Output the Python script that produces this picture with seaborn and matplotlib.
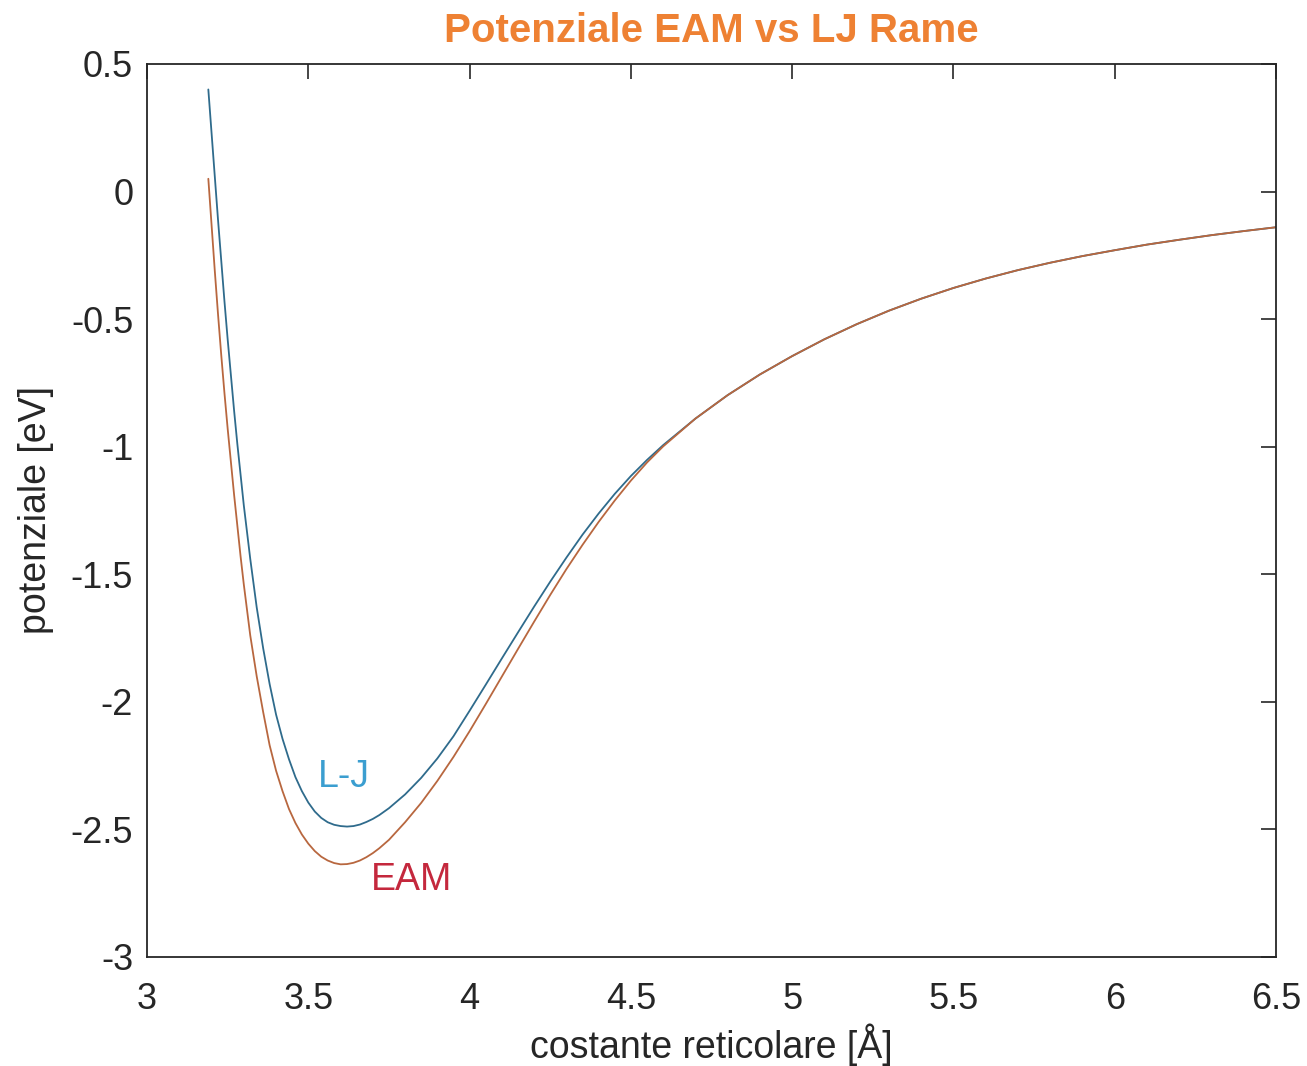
import matplotlib
matplotlib.use("Agg")
import matplotlib.pyplot as plt
import seaborn as sns
import numpy as np
import pandas as pd

# lattice constant grid (Angstrom) shared by both curves
r_vals = [3.19, 3.20, 3.21, 3.22, 3.23, 3.24, 3.25, 3.26, 3.27, 3.28, 3.29, 3.30,
          3.32, 3.34, 3.36, 3.38, 3.40, 3.42, 3.44, 3.46, 3.48, 3.50, 3.52, 3.54,
          3.56, 3.58, 3.60, 3.62, 3.64, 3.66, 3.68, 3.70, 3.72, 3.75, 3.80, 3.85,
          3.90, 3.95, 4.00, 4.05, 4.10, 4.15, 4.20, 4.25, 4.30, 4.35, 4.40, 4.45,
          4.50, 4.55, 4.60, 4.70, 4.80, 4.90, 5.00, 5.10, 5.20, 5.30, 5.40, 5.50,
          5.60, 5.70, 5.80, 5.90, 6.00, 6.10, 6.20, 6.30, 6.40, 6.50]

# potential (eV)
lj_vals = [0.40, 0.23, 0.06, -0.11, -0.27, -0.43, -0.58, -0.72, -0.86, -0.99, -1.11, -1.23,
           -1.44, -1.63, -1.79, -1.93, -2.05, -2.145, -2.225, -2.295, -2.35, -2.395, -2.43, -2.455,
           -2.472, -2.482, -2.487, -2.489, -2.487, -2.481, -2.471, -2.459, -2.444, -2.417, -2.363, -2.298,
           -2.222, -2.135, -2.035, -1.933, -1.83, -1.728, -1.627, -1.529, -1.435, -1.345, -1.262, -1.185,
           -1.115, -1.052, -0.994, -0.89, -0.798, -0.717, -0.645, -0.579, -0.52, -0.467, -0.42, -0.378,
           -0.341, -0.308, -0.279, -0.253, -0.23, -0.208, -0.189, -0.171, -0.155, -0.14]

eam_vals = [0.05, -0.13, -0.31, -0.48, -0.64, -0.79, -0.93, -1.06, -1.19, -1.31, -1.43, -1.54,
            -1.74, -1.90, -2.04, -2.17, -2.27, -2.35, -2.42, -2.475, -2.52, -2.556, -2.585, -2.607,
            -2.622, -2.632, -2.637, -2.636, -2.631, -2.622, -2.609, -2.593, -2.574, -2.541, -2.472, -2.396,
            -2.31, -2.216, -2.115, -2.009, -1.901, -1.793, -1.686, -1.581, -1.48, -1.385, -1.295, -1.211,
            -1.133, -1.062, -0.999, -0.89, -0.798, -0.717, -0.645, -0.579, -0.52, -0.467, -0.42, -0.378,
            -0.341, -0.308, -0.279, -0.253, -0.23, -0.208, -0.189, -0.171, -0.155, -0.14]

x_ticks = [3, 3.5, 4, 4.5, 5, 5.5, 6, 6.5]
y_ticks = [0.5, 0, -0.5, -1, -1.5, -2, -2.5, -3]

df = pd.DataFrame({"r": r_vals * 2,
                   "V": lj_vals + eam_vals,
                   "model": ["L-J"] * len(r_vals) + ["EAM"] * len(r_vals)})

sns.set_theme(style="white")
plt.rcParams["font.family"] = ["Liberation Sans", "DejaVu Sans"]
plt.rcParams["axes.unicode_minus"] = False

fig = plt.figure(figsize=(13.07, 10.66), dpi=100)
ax = fig.add_axes([0.1125, 0.1023, 0.8638, 0.8377])

sns.lineplot(data=df, x="r", y="V", hue="model", hue_order=["L-J", "EAM"],
             palette={"L-J": "#2f6b8c", "EAM": "#b8673f"}, linewidth=1.3,
             legend=False, sort=False, estimator=None, ax=ax)

ax.set_xlim(3, 6.5)
ax.set_ylim(-3, 0.5)
ax.set_xticks(x_ticks)
ax.set_yticks(y_ticks)
ax.set_xticklabels(["%g" % t for t in x_ticks])
ax.set_yticklabels(["%g" % t for t in y_ticks])
ax.tick_params(direction="in", length=11, width=1.2, colors="#262626",
               labelsize=26, top=True, right=True, pad=10)
ax.tick_params(axis="x", pad=18)
for s in ax.spines.values():
    s.set_color("#262626")
    s.set_linewidth(1.3)

ax.set_xlabel("costante reticolare [Å]", fontsize=27, color="#262626", labelpad=5)
ax.set_ylabel("potenziale [eV]", fontsize=27, color="#262626", labelpad=12)
ax.set_title("Potenziale EAM vs LJ Rame", fontsize=29, fontweight="bold",
             color="#ee8133", pad=16)

ax.text(3.53, -2.295, "L-J", fontsize=27, color="#3b9ed0", va="center", ha="left")
ax.text(3.694, -2.698, "EAM", fontsize=27, color="#c4283d", va="center", ha="left")

fig.savefig("out.png", dpi=100, facecolor="white")
